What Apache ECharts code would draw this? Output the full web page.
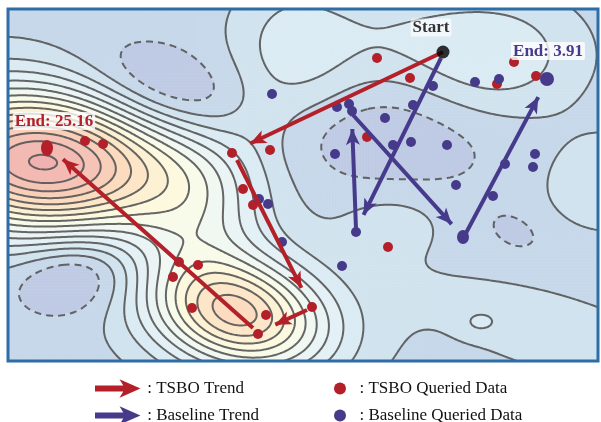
<!DOCTYPE html>
<html>
<head>
<meta charset="utf-8">
<script src="https://cdn.jsdelivr.net/npm/echarts@6/dist/echarts.min.js"></script>
<style>
  html, body { margin: 0; padding: 0; background: #fff; }
  #chart { width: 601px; height: 422px; }
</style>
</head>
<body>
<div id="chart"></div>
<script>
// axis units are the picture's pixels inside the blue frame
const xRange = [8, 598];
const yRange = [9, 361];

// landscape: flat level plus bumps [amplitude, cx, cy, sx, sy, tilt deg]
const fieldBase = -0.55;
const fieldBumps = [
  [13.7, 43, 162, 96, 50, 4],
  [2.7, 200, 205, 45, 55, 0],
  [8.3, 237, 313, 62, 38, 15],
  [1.5, 245, 315, 80, 50, 10],
  [-2.8, 165, 96, 62, 32, 15],
  [-2.6, 78, 272, 45, 28, -5],
  [-1.3, 385, 140, 75, 36, 3],
  [-0.9, 515, 232, 22, 14, 25],
  [2.1, 295, 50, 45, 50, 0],
  [1.0, 395, 35, 55, 30, 0],
  [2.3, 495, 55, 60, 42, 0],
  [0.6, 258, 120, 25, 25, 0],
  [1.4, 612, 183, 50, 35, 0],
  [1.0, 560, 335, 130, 35, 17],
  [0.9, 392, 220, 40, 25, 0],
  [1.0, 480, 322, 14, 9, 0]
];
const contourLevels = [-1, 0, 1, 2, 3, 4, 5, 6, 7, 8, 9, 10, 11, 12, 13];
const bandColors = ['#bfcbe4', '#c7d8ea', '#d1e3ee', '#dbebf3', '#e3f0f5', '#eaf4f5', '#f1f8f2',
  '#f8fbe9', '#fdf9df', '#fdf1d3', '#fde6c7', '#fcdbbf', '#f9cfba', '#f6c4b6', '#f3bab3', '#f0b2b0'];

const tsboPoints = [[85, 141], [103, 144], [232, 153], [270, 150], [377, 58], [410, 78], [367, 137],
  [497, 84], [514, 62], [536, 76], [243, 189], [253, 205], [179, 262], [198, 265], [173, 277],
  [192, 308], [266, 315], [258, 334], [312, 307], [388, 247]];
const baselinePoints = [[272, 94], [337, 107], [349, 104], [352, 111], [385, 118], [413, 105],
  [433, 86], [475, 82], [499, 79], [335, 154], [393, 145], [411, 142], [447, 145], [535, 154],
  [533, 167], [505, 164], [259, 199], [268, 204], [282, 242], [456, 185], [493, 196], [342, 266],
  [356, 232]];
const startPoint = [443, 52];
const tsboEnd = [47, 148];
const baselineEnd = [547, 79];
const baselineTurn = [463, 237];
const tsboEndValue = '25.16';
const baselineEndValue = '3.91';

// trend arrows: [tail, tip]
const tsboTrend = [[[443, 52], [243, 147]], [[237, 160], [305, 295]], [[307, 310], [268, 328]], [[253, 328], [57, 154]]];
const baselineTrend = [[[441, 58], [360, 222]], [[356, 229], [352, 121]], [[353, 115], [457, 230]], [[466, 233], [542, 90]]];

const RED = '#b4202a';
const BLUE = '#463a8b';
const SERIF = '"Liberation Serif", "DejaVu Serif", serif';

function fieldAt(x, y) {
  let v = fieldBase;
  for (const [amp, cx, cy, sx, sy, tilt] of fieldBumps) {
    const t = tilt * Math.PI / 180;
    const dx = x - cx, dy = y - cy;
    const u = (dx * Math.cos(t) + dy * Math.sin(t)) / sx;
    const w = (-dx * Math.sin(t) + dy * Math.cos(t)) / sy;
    v += amp * Math.exp(-0.5 * (u * u + w * w));
  }
  return v;
}

// filled bands
const cellsX = 197, cellsY = 118;
const heatData = [];
for (let j = 0; j < cellsY; j++) {
  for (let i = 0; i < cellsX; i++) {
    const x = xRange[0] + (i + 0.5) * (xRange[1] - xRange[0]) / cellsX;
    const y = yRange[0] + (j + 0.5) * (yRange[1] - yRange[0]) / cellsY;
    heatData.push([i, j, fieldAt(x, y)]);
  }
}

// contour lines with marching squares
const NX = 296, NY = 177;
const gx = [], gy = [], grid = [];
for (let i = 0; i < NX; i++) gx.push(xRange[0] + i * (xRange[1] - xRange[0]) / (NX - 1));
for (let j = 0; j < NY; j++) gy.push(yRange[0] + j * (yRange[1] - yRange[0]) / (NY - 1));
for (let j = 0; j < NY; j++) grid.push(gx.map(x => fieldAt(x, gy[j])));

function contour(level) {
  const pts = new Map(), adj = new Map(), segs = [];
  const edge = (key, x1, y1, v1, x2, y2, v2) => {
    if (!pts.has(key)) {
      const t = (level - v1) / (v2 - v1);
      pts.set(key, [x1 + t * (x2 - x1), y1 + t * (y2 - y1)]);
    }
    return key;
  };
  const add = (k1, k2) => {
    const n = segs.length;
    segs.push([k1, k2]);
    for (const k of [k1, k2]) {
      if (!adj.has(k)) adj.set(k, []);
      adj.get(k).push(n);
    }
  };
  for (let j = 0; j < NY - 1; j++) {
    for (let i = 0; i < NX - 1; i++) {
      const a = grid[j][i], b = grid[j][i + 1], c = grid[j + 1][i + 1], d = grid[j + 1][i];
      const idx = (a >= level ? 8 : 0) | (b >= level ? 4 : 0) | (c >= level ? 2 : 0) | (d >= level ? 1 : 0);
      if (idx === 0 || idx === 15) continue;
      const T = () => edge('h' + i + '_' + j, gx[i], gy[j], a, gx[i + 1], gy[j], b);
      const R = () => edge('v' + (i + 1) + '_' + j, gx[i + 1], gy[j], b, gx[i + 1], gy[j + 1], c);
      const B = () => edge('h' + i + '_' + (j + 1), gx[i], gy[j + 1], d, gx[i + 1], gy[j + 1], c);
      const L = () => edge('v' + i + '_' + j, gx[i], gy[j], a, gx[i], gy[j + 1], d);
      const mid = (a + b + c + d) / 4 >= level;
      switch (idx) {
        case 1: case 14: add(L(), B()); break;
        case 2: case 13: add(B(), R()); break;
        case 3: case 12: add(L(), R()); break;
        case 4: case 11: add(T(), R()); break;
        case 6: case 9: add(T(), B()); break;
        case 7: case 8: add(L(), T()); break;
        case 5:
          if (mid) { add(L(), T()); add(B(), R()); } else { add(L(), B()); add(T(), R()); }
          break;
        case 10:
          if (mid) { add(T(), R()); add(L(), B()); } else { add(L(), T()); add(B(), R()); }
          break;
      }
    }
  }
  const used = new Uint8Array(segs.length);
  const lines = [];
  const walk = (start) => {
    const out = [];
    let cur = start;
    for (;;) {
      const next = (adj.get(cur) || []).find(q => !used[q]);
      if (next === undefined) break;
      used[next] = 1;
      cur = segs[next][0] === cur ? segs[next][1] : segs[next][0];
      out.push(cur);
    }
    return out;
  };
  for (let s = 0; s < segs.length; s++) {
    if (used[s]) continue;
    used[s] = 1;
    const fwd = walk(segs[s][1]);
    const back = walk(segs[s][0]);
    const keys = back.reverse().concat([segs[s][0], segs[s][1]], fwd);
    lines.push({ coords: keys.map(k => pts.get(k)) });
  }
  return lines;
}

const solidLines = [], dashedLines = [];
for (const lv of contourLevels) {
  (lv < 0 ? dashedLines : solidLines).push(...contour(lv));
}

// arrows end their shaft under the head
const HEAD = [10.5, 16];
function arrowData(list) {
  return list.map(([p, q]) => {
    const dx = q[0] - p[0], dy = q[1] - p[1], len = Math.hypot(dx, dy);
    const back = HEAD[1] / 2;
    return { coords: [p, [q[0] - dx / len * back, q[1] - dy / len * back]] };
  });
}

const labelBase = {
  show: true, position: 'top', fontFamily: SERIF, fontWeight: 'bold', fontSize: 17,
  backgroundColor: 'rgba(255,255,255,0.8)', padding: [1, 2, 0, 2], borderRadius: 2
};

const arrowIcon = 'path://M0,5L29,5L26,0L42,7L26,14L29,9L0,9Z';
const legendText = { fontFamily: SERIF, fontSize: 17, color: '#111', lineHeight: 16 };

const chart = echarts.init(document.getElementById('chart'), null, { renderer: 'canvas' });
chart.setOption({
  animation: false,
  grid: { left: 8, top: 9, width: 590, height: 352, show: true, z: 10,
    backgroundColor: 'transparent', borderColor: '#2e6da5', borderWidth: 3 },
  xAxis: [
    { type: 'category', data: heatData.slice(0, cellsX).map(d => d[0]), show: false },
    { type: 'value', min: xRange[0], max: xRange[1], show: false }
  ],
  yAxis: [
    { type: 'category', data: Array.from({ length: cellsY }, (_, j) => j), inverse: true, show: false },
    { type: 'value', min: yRange[0], max: yRange[1], inverse: true, show: false }
  ],
  visualMap: {
    type: 'piecewise', show: false, dimension: 2, seriesIndex: 0,
    pieces: bandColors.map((color, k) => {
      const p = { color };
      if (k > 0) p.gte = contourLevels[k - 1];
      if (k < contourLevels.length) p.lt = contourLevels[k];
      return p;
    })
  },
  legend: [
    { orient: 'vertical', left: 95, top: 380, height: 80, padding: 0, itemGap: 10, itemWidth: 42, itemHeight: 14,
      selectedMode: false, formatter: ' : {name}', textStyle: legendText,
      data: [
        { name: 'TSBO Trend', icon: arrowIcon, itemStyle: { color: RED } },
        { name: 'Baseline Trend', icon: arrowIcon, itemStyle: { color: BLUE } }
      ] },
    { orient: 'vertical', left: 334, top: 380, height: 80, padding: 0, itemGap: 10, itemWidth: 12, itemHeight: 12,
      selectedMode: false, formatter: '  : {name}', textStyle: legendText,
      data: [
        { name: 'TSBO Queried Data', icon: 'circle', itemStyle: { color: RED } },
        { name: 'Baseline Queried Data', icon: 'circle', itemStyle: { color: BLUE } }
      ] }
  ],
  series: [
    { type: 'heatmap', xAxisIndex: 0, yAxisIndex: 0, data: heatData, progressive: 0, silent: true, z: 1 },
    { type: 'lines', name: 'contours', coordinateSystem: 'cartesian2d', xAxisIndex: 1, yAxisIndex: 1,
      polyline: true, silent: true, z: 2, data: solidLines,
      lineStyle: { color: '#555', width: 2, opacity: 0.9 } },
    { type: 'lines', name: 'basins', coordinateSystem: 'cartesian2d', xAxisIndex: 1, yAxisIndex: 1,
      polyline: true, silent: true, z: 2, data: dashedLines,
      lineStyle: { color: '#555', width: 2, opacity: 0.9, type: [7, 5] } },
    { type: 'scatter', name: 'TSBO Queried Data', xAxisIndex: 1, yAxisIndex: 1, z: 3,
      symbolSize: 10, itemStyle: { color: RED, opacity: 1 },
      data: tsboPoints.concat([{ value: tsboEnd, symbolSize: [12, 16],
        label: Object.assign({}, labelBase, { color: RED, formatter: 'End: ' + tsboEndValue, distance: 10, offset: [7, 0] }) }]) },
    { type: 'scatter', name: 'Baseline Queried Data', xAxisIndex: 1, yAxisIndex: 1, z: 3,
      symbolSize: 10, itemStyle: { color: BLUE, opacity: 1 },
      data: baselinePoints.concat([{ value: baselineTurn, symbolSize: [12, 14] },
        { value: baselineEnd, symbolSize: 14,
          label: Object.assign({}, labelBase, { color: BLUE, formatter: 'End: ' + baselineEndValue, distance: 12, offset: [1, 0] }) }]) },
    { type: 'lines', name: 'TSBO Trend', coordinateSystem: 'cartesian2d', xAxisIndex: 1, yAxisIndex: 1, z: 4,
      symbol: ['none', 'arrow'], symbolSize: [0, HEAD], data: arrowData(tsboTrend),
      lineStyle: { color: RED, width: 4, opacity: 1 }, itemStyle: { color: RED } },
    { type: 'lines', name: 'Baseline Trend', coordinateSystem: 'cartesian2d', xAxisIndex: 1, yAxisIndex: 1, z: 4,
      symbol: ['none', 'arrow'], symbolSize: [0, HEAD], data: arrowData(baselineTrend),
      lineStyle: { color: BLUE, width: 4, opacity: 1 }, itemStyle: { color: BLUE } },
    { type: 'scatter', name: 'Start', xAxisIndex: 1, yAxisIndex: 1, z: 5, symbolSize: 13,
      itemStyle: { color: '#000' },
      data: [{ value: startPoint,
        label: Object.assign({}, labelBase, { color: '#000', formatter: 'Start', distance: 9, offset: [-12, 0] }) }] }
  ]
});
</script>
</body>
</html>
